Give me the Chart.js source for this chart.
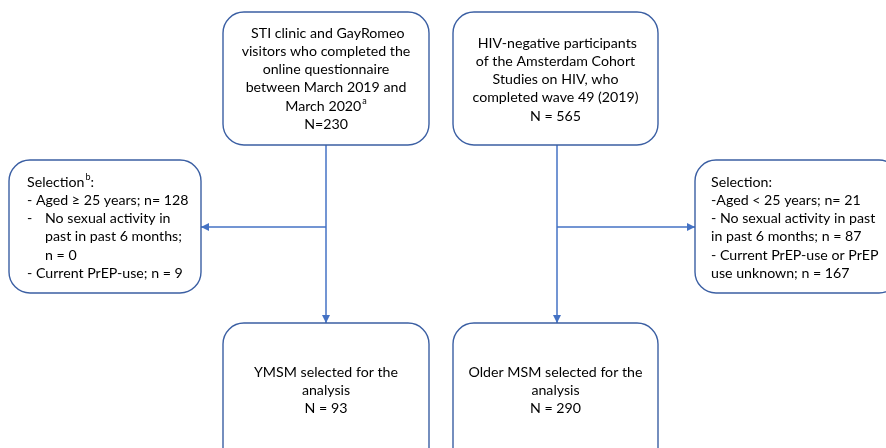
<!DOCTYPE html>
<html>
<head>
<meta charset="utf-8">
<script src="https://cdn.jsdelivr.net/npm/chart.js@4"></script>
<style>
  html, body { margin: 0; padding: 0; background: #fff; }
  #wrap { width: 886px; height: 448px; position: relative; }
</style>
</head>
<body>
<div id="wrap"><canvas id="flow"></canvas></div>
<script>
// counts
const sourceNames = ["STI clinic and GayRomeo", "Amsterdam Cohort Studies"];
const sourceCounts = [230, 565];
const leftExclusions = [128, 0, 9];
const rightExclusions = [21, 87, 167];
const finalGroups = ["YMSM", "Older MSM"];
const finalCounts = [93, 290];

// box text, one entry per line; [text, superscript, tail, indented text]
const topLeftText = [
  [" STI clinic and GayRomeo"],
  ["visitors who completed the"],
  ["online questionnaire"],
  ["between March 2019 and"],
  ["March 2020", "a"],
  ["N=" + sourceCounts[0]]
];
const topRightText = [
  [" HIV-negative participants"],
  ["of the Amsterdam Cohort"],
  ["Studies on HIV, who"],
  ["completed wave 49 (2019)"],
  ["N = " + sourceCounts[1]]
];
const leftText = [
  ["Selection", "b", ":"],
  ["- Aged \u2265 25 years; n= " + leftExclusions[0]],
  ["-", null, null, "No sexual activity in"],
  ["", null, null, "past in past 6 months;"],
  ["", null, null, "n = " + leftExclusions[1]],
  ["- Current PrEP-use; n = " + leftExclusions[2]]
];
const rightText = [
  ["Selection:"],
  ["-Aged < 25 years; n= " + rightExclusions[0]],
  ["- No sexual activity in past"],
  ["in past 6 months; n = " + rightExclusions[1]],
  ["- Current PrEP-use or PrEP"],
  ["use unknown; n = " + rightExclusions[2]]
];
const bottomLeftText = [[finalGroups[0] + " selected for the"], ["analysis"], ["N = " + finalCounts[0]]];
const bottomRightText = [[finalGroups[1] + " selected for the"], ["analysis"], ["N = " + finalCounts[1]]];

// layout in scale units (x 0..886, y 0..448)
const boxes = [
  { x0: 223, x1: 429, y0: 12, y1: 145, lines: topLeftText, align: "center", top: 33 },
  { x0: 453, x1: 658, y0: 12, y1: 145, lines: topRightText, align: "center", top: 43 },
  { x0: 9, x1: 201, y0: 160, y1: 293, lines: leftText, align: "left", tx: 27, top: 182 },
  { x0: 695, x1: 900, y0: 160, y1: 293, lines: rightText, align: "left", tx: 711, top: 182 },
  { x0: 223, x1: 429, y0: 323, y1: 470, lines: bottomLeftText, align: "center", top: 372 },
  { x0: 453, x1: 658, y0: 323, y1: 470, lines: bottomRightText, align: "center", top: 372 }
];
const arrows = [
  { from: [326, 145], to: [326, 323] },
  { from: [557, 145], to: [557, 323] },
  { from: [326, 227], to: [201, 227] },
  { from: [557, 227], to: [695, 227] }
];

const FONT = "Lato, 'Open Sans', sans-serif";
const FS = 14.2;
const LH = 18.3;
const BORDER = "#3b5fa3";
const LINK = "#4472c4";
const TEXT = "#000";

function roundRect(ctx, x, y, w, h, r) {
  ctx.beginPath();
  ctx.moveTo(x + r, y);
  ctx.lineTo(x + w - r, y);
  ctx.arcTo(x + w, y, x + w, y + r, r);
  ctx.lineTo(x + w, y + h - r);
  ctx.arcTo(x + w, y + h, x + w - r, y + h, r);
  ctx.lineTo(x + r, y + h);
  ctx.arcTo(x, y + h, x, y + h - r, r);
  ctx.lineTo(x, y + r);
  ctx.arcTo(x, y, x + r, y, r);
  ctx.closePath();
}

const flowPlugin = {
  id: "flow",
  afterDatasetsDraw(chart) {
    const ctx = chart.ctx;
    const sx = chart.scales.x, sy = chart.scales.y;
    const px = v => sx.getPixelForValue(v);
    const py = v => sy.getPixelForValue(v);
    ctx.save();

    // connectors
    ctx.strokeStyle = LINK;
    ctx.fillStyle = LINK;
    ctx.lineWidth = 1.5;
    arrows.forEach(a => {
      const x0 = px(a.from[0]), y0 = py(a.from[1]);
      const x1 = px(a.to[0]), y1 = py(a.to[1]);
      ctx.beginPath();
      ctx.moveTo(x0, y0);
      ctx.lineTo(x1, y1);
      ctx.stroke();
      const ang = Math.atan2(y1 - y0, x1 - x0);
      const L = 8, W = 4;
      ctx.beginPath();
      ctx.moveTo(x1, y1);
      ctx.lineTo(x1 - L * Math.cos(ang) + W * Math.sin(ang), y1 - L * Math.sin(ang) - W * Math.cos(ang));
      ctx.lineTo(x1 - L * Math.cos(ang) - W * Math.sin(ang), y1 - L * Math.sin(ang) + W * Math.cos(ang));
      ctx.closePath();
      ctx.fill();
    });

    // boxes
    boxes.forEach(b => {
      const x0 = px(b.x0), x1 = px(b.x1), y0 = py(b.y0), y1 = py(b.y1);
      roundRect(ctx, x0, y0, x1 - x0, y1 - y0, 21);
      ctx.fillStyle = "#fff";
      ctx.fill();
      ctx.strokeStyle = BORDER;
      ctx.lineWidth = 1.4;
      ctx.stroke();

      ctx.fillStyle = TEXT;
      ctx.textBaseline = "middle";
      b.lines.forEach((ln, i) => {
        const y = py(b.top + i * LH);
        const main = ln[0], sup = ln[1], tail = ln[2], indented = ln[3];
        ctx.font = FS + "px " + FONT;
        const wMain = ctx.measureText(main).width;
        ctx.font = "9px " + FONT;
        const wSup = sup ? ctx.measureText(sup).width + 1 : 0;
        ctx.font = FS + "px " + FONT;
        const wTail = tail ? ctx.measureText(tail).width : 0;
        const total = wMain + wSup + wTail;
        let x = b.align === "center" ? (x0 + x1) / 2 - total / 2 : px(b.tx);
        ctx.textAlign = "left";
        ctx.fillText(main, x, y);
        x += wMain;
        if (sup) {
          ctx.font = "9px " + FONT;
          ctx.fillText(sup, x + 1, y - 5);
          x += wSup;
          ctx.font = FS + "px " + FONT;
        }
        if (tail) ctx.fillText(tail, x, y);
        if (indented) ctx.fillText(indented, px(b.tx + 18), y);
      });
    });
    ctx.restore();
  }
};

new Chart(document.getElementById("flow"), {
  type: "scatter",
  data: { datasets: [{ data: [], pointRadius: 0 }] },
  options: {
    responsive: true,
    maintainAspectRatio: false,
    animation: false,
    layout: { padding: 0 },
    plugins: { legend: { display: false }, tooltip: { enabled: false } },
    scales: {
      x: { type: "linear", min: 0, max: 886, display: false },
      y: { type: "linear", min: 0, max: 448, reverse: true, display: false }
    }
  },
  plugins: [flowPlugin]
});
</script>
</body>
</html>
